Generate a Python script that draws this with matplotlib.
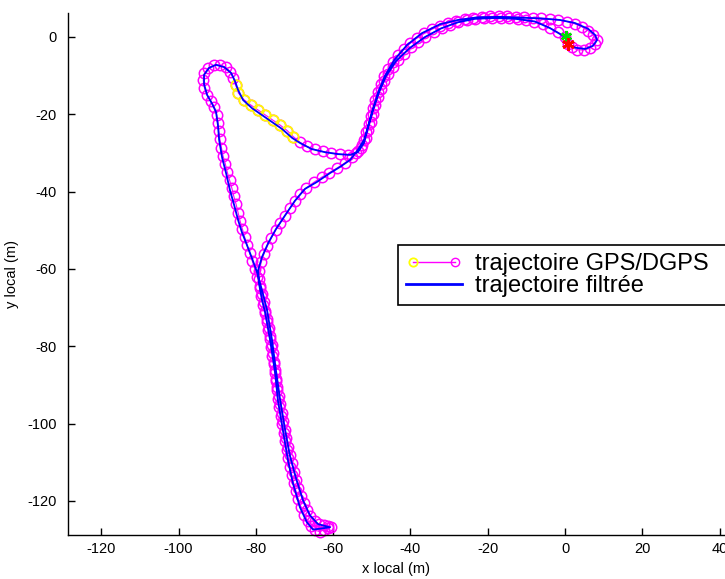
import numpy as np
import matplotlib
matplotlib.use("Agg")
import matplotlib.pyplot as plt
from matplotlib.lines import Line2D
from matplotlib.legend_handler import HandlerBase

plt.rcParams["font.family"] = ["Liberation Sans", "DejaVu Sans"]
plt.rcParams["axes.unicode_minus"] = False

# ─── points GPS/DGPS (x, y) en m, repère local ───
# départ (étoile verte) -> arc haut -> branche droite -> bas -> remontée -> boucle gauche
gps_part1 = [
    (0.0, 0.0), (-1.8, 1.2), (-3.8, 2.3), (-5.8, 3.3), (-7.9, 4.0), (-10.0, 4.4),
    (-12.2, 4.7), (-14.4, 4.9), (-16.6, 5.0), (-18.8, 5.0), (-21.0, 4.9), (-23.2, 4.7),
    (-25.4, 4.4), (-27.6, 3.8), (-29.8, 3.1), (-31.9, 2.3), (-34.0, 1.2), (-36.1, 0.0),
    (-38.0, -1.3), (-39.9, -2.7), (-41.6, -4.3), (-43.2, -6.0), (-44.6, -7.8), (-45.8, -9.6),
    (-46.8, -11.5), (-47.7, -13.5), (-48.4, -15.6), (-49.1, -17.7), (-49.7, -19.8),
    (-50.3, -21.9), (-50.9, -24.0), (-51.5, -26.0), (-52.4, -27.9), (-53.6, -29.6),
    (-55.2, -31.1),
    (-57.0, -32.6), (-59.0, -33.9), (-61.0, -35.1), (-63.0, -36.3), (-65.0, -37.6),
    (-66.9, -39.0), (-68.5, -40.6), (-69.9, -42.4), (-71.2, -44.3), (-72.5, -46.2),
    (-73.7, -48.1), (-74.9, -50.0), (-76.0, -52.0), (-77.0, -54.0), (-77.9, -56.1),
    (-78.6, -58.3), (-79.1, -60.5), (-79.2, -62.7), (-79.0, -64.9), (-78.6, -67.1),
    (-78.1, -69.3), (-77.6, -71.5), (-77.2, -73.7), (-76.8, -75.9), (-76.4, -78.1),
    (-76.0, -80.3), (-75.7, -82.5), (-75.4, -84.7), (-75.1, -86.9), (-74.8, -89.1),
    (-74.6, -91.3), (-74.3, -93.5), (-74.0, -95.7), (-73.6, -97.9), (-73.2, -100.1),
    (-72.8, -102.3), (-72.4, -104.5), (-72.0, -106.7), (-71.6, -108.9), (-71.2, -111.1),
    (-70.7, -113.3), (-70.2, -115.4), (-69.6, -117.5), (-69.0, -119.6), (-68.3, -121.6),
    (-67.5, -123.5), (-66.6, -125.2), (-65.6, -126.6), (-64.6, -127.6), (-63.5, -127.9),
    (-62.4, -127.5), (-61.4, -127.0), (-60.6, -126.7), (-61.2, -126.4), (-62.4, -126.3),
    (-63.6, -126.0),
    (-64.8, -125.3), (-65.9, -124.0), (-66.8, -122.4), (-67.6, -120.6), (-68.3, -118.6),
    (-69.0, -116.6), (-69.6, -114.5), (-70.2, -112.4), (-70.7, -110.3), (-71.2, -108.2),
    (-71.7, -106.0), (-72.1, -103.8), (-72.5, -101.6), (-72.9, -99.4), (-73.3, -97.2),
    (-73.7, -95.0), (-74.0, -92.8), (-74.4, -90.6), (-74.7, -88.4), (-75.0, -86.2),
    (-75.3, -84.0), (-75.6, -81.8), (-75.9, -79.6), (-76.3, -77.4), (-76.7, -75.2),
    (-77.1, -73.0), (-77.5, -70.8), (-77.9, -68.6), (-78.4, -66.4), (-79.0, -64.3),
    (-79.6, -62.2), (-80.2, -60.1), (-80.9, -58.0), (-81.6, -55.9), (-82.3, -53.8),
    (-82.9, -51.7), (-83.5, -49.6), (-84.1, -47.5), (-84.6, -45.4), (-85.1, -43.3),
    (-85.7, -41.2), (-86.2, -39.1), (-86.8, -37.0), (-87.4, -34.9), (-87.9, -32.8),
    (-88.5, -30.7), (-88.9, -28.6), (-89.3, -26.5), (-89.6, -24.4), (-89.8, -22.3),
    (-90.1, -20.2), (-90.7, -18.2), (-91.6, -16.6), (-92.6, -15.0), (-93.3, -13.2),
    (-93.6, -11.2), (-93.3, -9.4), (-92.3, -8.0), (-90.9, -7.3), (-89.3, -7.2),
    (-87.8, -7.8), (-86.6, -9.0), (-85.8, -10.6),
]
# points marqués en jaune
gps_yellow = [
    (-85.2, -12.5), (-84.5, -14.5), (-83.1, -16.2), (-81.3, -17.6), (-79.4, -18.9),
    (-77.5, -20.2), (-75.6, -21.5), (-73.7, -22.8), (-71.9, -24.2), (-70.3, -25.8),
]
gps_part2 = [
    (-68.6, -27.2), (-66.8, -28.3), (-64.8, -29.1), (-62.7, -29.6), (-60.5, -30.0),
    (-58.3, -30.3), (-56.1, -30.5), (-54.2, -30.0), (-52.8, -28.6), (-52.0, -26.7),
    (-51.4, -24.7), (-50.8, -22.6), (-50.3, -20.5), (-49.8, -18.4), (-49.2, -16.3),
    (-48.5, -14.2), (-47.7, -12.2), (-46.8, -10.2), (-45.7, -8.3), (-44.5, -6.5),
    (-43.1, -4.7), (-41.6, -3.1), (-40.0, -1.6), (-38.3, -0.3), (-36.4, 0.9),
    (-34.4, 2.0), (-32.4, 2.9), (-30.3, 3.6), (-28.2, 4.1), (-26.0, 4.6),
    (-23.8, 5.0), (-21.6, 5.2), (-19.4, 5.3), (-17.2, 5.3), (-15.0, 5.3),
    (-12.8, 5.2), (-10.6, 5.1), (-8.4, 5.0), (-6.2, 4.9), (-4.0, 4.7),
    (-1.8, 4.4), (0.4, 4.0), (2.5, 3.4), (4.4, 2.6), (6.0, 1.6),
    (7.3, 0.5), (8.2, -0.8), (7.8, -1.9), (6.5, -2.9), (4.8, -3.4),
    (3.1, -3.3), (1.7, -2.6), (0.8, -1.8),
]

# trajectoire filtrée
filt_xy = [
    (0.0, 0.0), (-3.9, 2.3), (-7.8, 4.0), (-12.9, 4.7), (-18.1, 4.9), (-23.3, 4.7),
    (-27.7, 3.8), (-32.1, 2.2), (-36.2, 0.0), (-40.1, -2.8), (-43.7, -6.2), (-46.3, -10.1),
    (-48.1, -14.2), (-49.7, -18.9), (-51.0, -23.3), (-52.0, -26.6), (-53.6, -29.2),
    (-55.6, -31.8), (-58.2, -33.6), (-60.8, -35.2), (-64.2, -37.5), (-67.3, -39.3),
    (-69.9, -42.4), (-72.4, -46.1), (-74.8, -49.7), (-76.8, -53.3), (-78.4, -56.9),
    (-79.4, -60.3), (-79.2, -63.6), (-78.4, -68.0), (-77.6, -71.2), (-76.3, -78.4),
    (-75.0, -86.9), (-74.3, -93.9), (-73.0, -101.7), (-71.7, -109.4), (-70.4, -115.4),
    (-68.6, -121.6), (-66.8, -125.5), (-65.2, -127.4), (-62.9, -127.1), (-60.8, -126.8),
    (-63.9, -126.0), (-66.0, -123.7), (-67.8, -119.8), (-69.6, -114.1), (-71.2, -108.2),
    (-72.4, -101.7), (-73.7, -93.9), (-74.8, -86.2), (-75.8, -78.4), (-77.1, -70.6),
    (-78.4, -65.5), (-79.7, -60.8), (-81.0, -57.2), (-82.3, -53.8), (-83.6, -50.5),
    (-84.6, -47.3), (-85.6, -43.5), (-86.7, -39.6), (-87.7, -35.2), (-88.7, -31.3),
    (-89.5, -26.6), (-89.8, -22.8), (-90.3, -19.4), (-91.3, -17.3), (-92.6, -15.0),
    (-93.4, -12.2), (-93.4, -9.8), (-92.1, -8.0), (-90.3, -7.2), (-88.2, -7.8),
    (-86.4, -9.3), (-85.4, -11.4), (-84.6, -13.7), (-83.3, -16.3), (-81.0, -18.4),
    (-78.4, -20.2), (-75.8, -22.0), (-73.2, -23.8), (-70.6, -26.1), (-68.6, -27.4),
    (-65.5, -29.0), (-62.1, -29.8), (-58.7, -30.3), (-55.6, -30.5), (-53.6, -29.8),
    (-52.0, -27.4), (-51.0, -23.5), (-49.9, -19.4), (-48.4, -14.5), (-46.6, -10.1),
    (-44.2, -6.0), (-40.9, -2.1), (-37.0, 1.0), (-32.3, 3.3), (-27.7, 4.4),
    (-22.5, 5.1), (-16.8, 5.2), (-11.6, 5.0), (-6.5, 4.8), (-1.3, 4.4),
    (2.6, 3.6), (6.0, 2.1), (7.8, 0.5), (8.3, -0.8), (7.2, -2.3),
    (5.2, -3.1), (2.8, -2.8), (0.8, -1.8),
]

start_xy = (0.3, 0.2)    # étoile verte
end_xy = (0.9, -1.8)     # étoile rouge

x_ticks = [-120, -100, -80, -60, -40, -20, 0, 20, 40]
y_ticks = [-120, -100, -80, -60, -40, -20, 0]

MAGENTA = "#FF00FF"
YELLOW = "#FFFF00"
BLUE = "#0000FF"
MS = 7.5


class HandlerGPS(HandlerBase):
    """ligne magenta avec cercle jaune à gauche et cercle magenta à droite"""
    def create_artists(self, legend, orig_handle, xdescent, ydescent,
                       width, height, fontsize, trans):
        y = height / 2 - ydescent
        x0 = -xdescent + 0.3 * fontsize
        x1 = width - xdescent - 0.3 * fontsize
        line = Line2D([x0, x1], [y, y], color=MAGENTA, lw=1.0)
        m0 = Line2D([x0], [y], ls="none", marker="o", ms=6, mfc="none",
                    mec=YELLOW, mew=1.3)
        m1 = Line2D([x1], [y], ls="none", marker="o", ms=6, mfc="none",
                    mec=MAGENTA, mew=1.0)
        for a in (line, m0, m1):
            a.set_transform(trans)
        return [line, m0, m1]


gps = np.array(gps_part1 + gps_yellow + gps_part2)
yel = np.array(gps_yellow)
filt = np.array(filt_xy)

fig = plt.figure(figsize=(7.25, 5.79), dpi=100)
ax = fig.add_axes([68 / 725, 44 / 579, 657 / 725, 522 / 579])

ax.plot(gps[:, 0], gps[:, 1], color=MAGENTA, lw=0.8, marker="o", ms=MS,
        mfc="none", mec=MAGENTA, mew=1.1, clip_on=False, zorder=2)
ax.plot(yel[:, 0], yel[:, 1], ls="none", marker="o", ms=MS,
        mfc="none", mec=YELLOW, mew=1.3, zorder=3)
ax.plot(filt[:, 0], filt[:, 1], color=BLUE, lw=1.3, zorder=4)
ax.plot(*start_xy, marker=(6, 2, 0), ms=8, mec="#00DD00", mew=1.8, zorder=5)
ax.plot(*end_xy, marker=(6, 2, 0), ms=9, mec="#FF0000", mew=2.0, zorder=6)

ax.set_xlim(-128.6, 41.4)
ax.set_ylim(-128.8, 6.2)
ax.set_xticks(x_ticks)
ax.set_yticks(y_ticks)
ax.tick_params(direction="in", length=5, width=1, labelsize=10.5, color="black")
ax.tick_params(axis="x", pad=5)
ax.tick_params(axis="y", pad=8)
for side in ["top", "right"]:
    ax.spines[side].set_visible(False)
for side in ["left", "bottom"]:
    ax.spines[side].set_linewidth(1.0)
    ax.spines[side].set_color("black")

ax.set_xlabel("x local (m)", fontsize=10.5, labelpad=4)
ax.set_ylabel("y local (m)", fontsize=10.5, labelpad=6)

# la légende déborde à droite de la figure, comme sur l'original
h_gps = Line2D([], [], color=MAGENTA)
h_filt = Line2D([], [], color=BLUE, lw=2.0)
leg_top = 1 - 245 / 579
leg_h = 59 / 579
leg = fig.legend([h_gps, h_filt], ["trajectoire GPS/DGPS", "trajectoire filtrée"],
                 handler_map={h_gps: HandlerGPS()},
                 loc="upper left", mode="expand",
                 bbox_to_anchor=(398 / 725, leg_top - leg_h, 380 / 725, leg_h),
                 borderaxespad=0, fontsize=17, handlelength=2.4,
                 handletextpad=0.55, labelspacing=0.0, borderpad=0.33,
                 fancybox=False, framealpha=1, edgecolor="black")
leg.get_frame().set_linewidth(1.2)

fig.savefig("out.png", dpi=100)
